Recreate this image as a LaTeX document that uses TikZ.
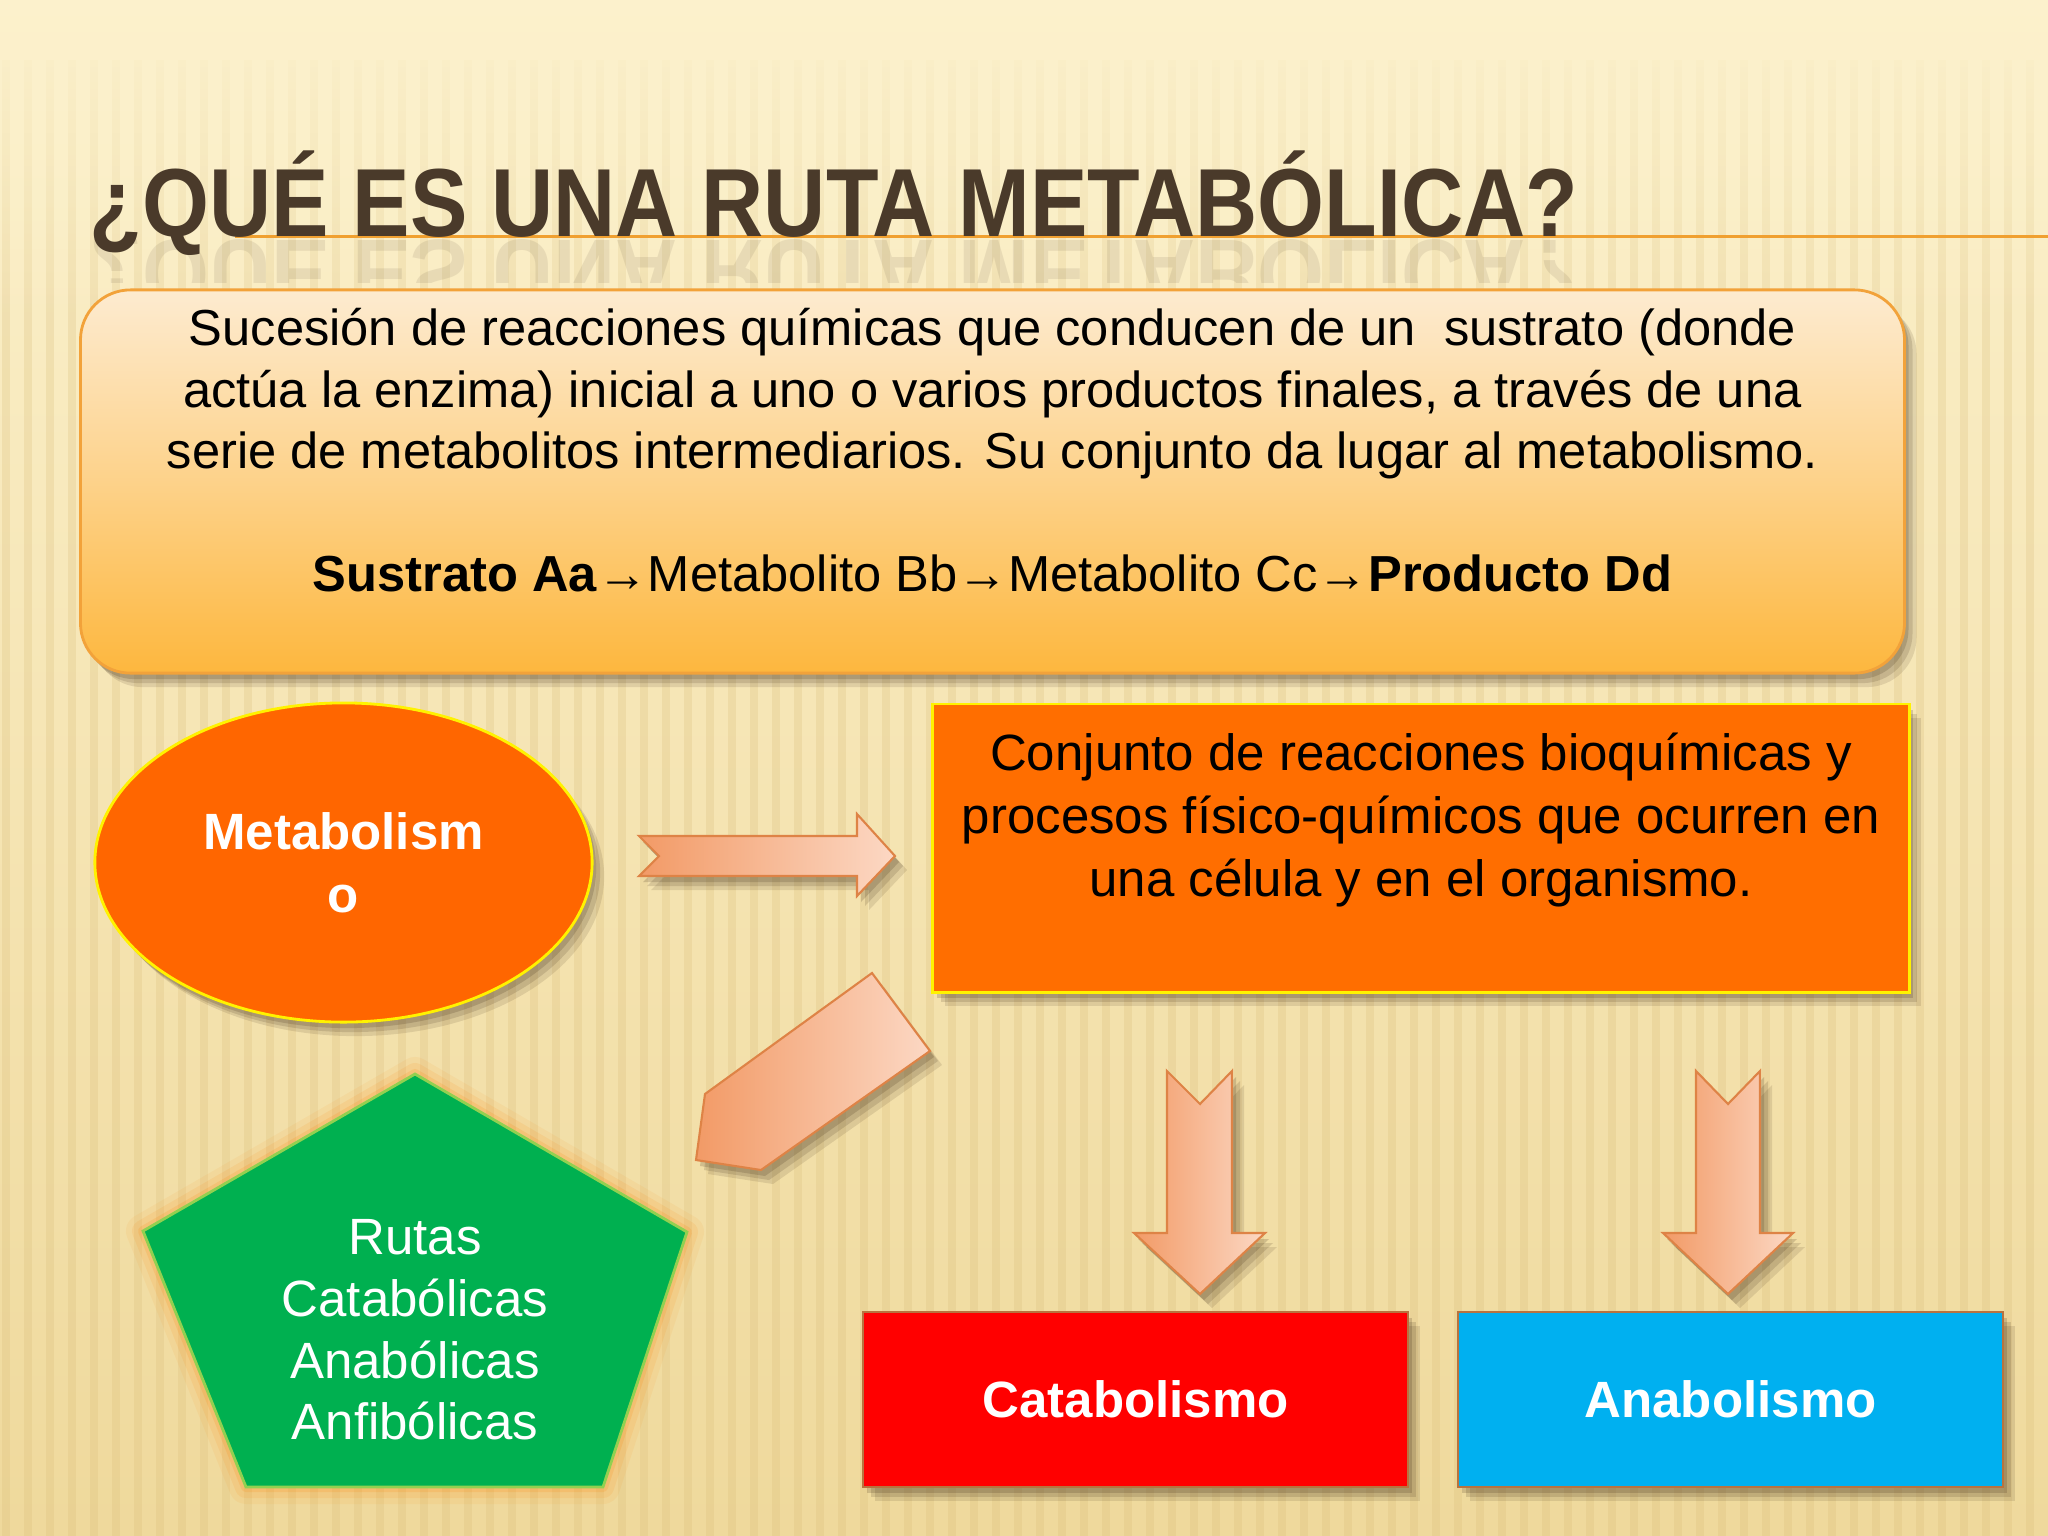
\documentclass[tikz,border=0pt]{standalone}
\usepackage{fontspec}
\setmainfont{Liberation Sans}
\newfontfamily\titlefont[FakeStretch=0.89]{Liberation Sans}
\usetikzlibrary{shapes.geometric}
\usetikzlibrary{shadows}
\usetikzlibrary{fadings}
\usetikzlibrary{positioning}
\usetikzlibrary{calc}

\definecolor{fondo}{HTML}{FCF1CC}
\definecolor{fondobajo}{HTML}{EFD99C}
\definecolor{raya}{HTML}{D9BC78}
\definecolor{colortitulo}{HTML}{4A3A2A}
\definecolor{linea}{HTML}{F0A030}
\definecolor{cajaarriba}{HTML}{FDEBD0}
\definecolor{cajamedio}{HTML}{FDD28A}
\definecolor{cajaabajo}{HTML}{FDB73E}
\definecolor{cajaborde}{HTML}{F2A23A}
\definecolor{naranja}{HTML}{FF6600}
\definecolor{naranjacaja}{HTML}{FF6E00}
\definecolor{verde}{HTML}{00B050}
\definecolor{verdeborde}{HTML}{92D050}
\definecolor{rojo}{HTML}{FF0000}
\definecolor{azul}{HTML}{00B0F0}
\definecolor{cafeborde}{HTML}{B8733F}
\definecolor{flechaosc}{HTML}{F29A66}
\definecolor{flechaclr}{HTML}{FCD8C4}
\definecolor{flechaborde}{HTML}{DE8346}

\tikzfading[name=desvanece, top color=transparent!0, bottom color=transparent!100]

\tikzset{
  sombra/.style={
    drop shadow={shadow xshift=0.12cm, shadow yshift=-0.14cm, opacity=0.12, fill=black!70!brown},
    drop shadow={shadow xshift=0.08cm, shadow yshift=-0.1cm, opacity=0.15, fill=black!70!brown},
    drop shadow={shadow xshift=0.04cm, shadow yshift=-0.06cm, opacity=0.18, fill=black!70!brown}},
  flecha/.style={draw=flechaborde, line width=0.6pt, left color=flechaosc, right color=flechaclr, sombra},
  caja/.style={rectangle, draw=cafeborde, line width=0.6pt, minimum width=5.44cm, minimum height=1.75cm, text=white, font=\fontsize{14.5}{17}\selectfont\bfseries, sombra},
}

\begin{document}
\begin{tikzpicture}[x=0.01cm, y=-0.01cm]
				\useasboundingbox (0,0) rectangle (2048,1536);
				% fondo
				\shade[top color=fondo, bottom color=fondobajo] (0,0) rectangle (2048,1536);
				\foreach \i in {0,...,93}
				\draw[raya, opacity=0.25, line width=0.08cm] (\i*22+6,60) -- (\i*22+6,1536);
				\fill[fondo, path fading=desvanece] (0,0) rectangle (2048,330);
				
				% titulo
				\draw[linea, line width=0.03cm] (235,236) -- (2048,236);
				\node[anchor=base west, text=colortitulo, font=\titlefont\fontsize{27.5}{30}\selectfont\bfseries, inner sep=0pt] (tit) at (89,236) {¿QUÉ ES UNA RUTA METABÓLICA?};
				\begin{scope}
				\clip (0,239) rectangle (2048,282);
				\node[anchor=base west, text=colortitulo, font=\titlefont\fontsize{27.5}{30}\selectfont\bfseries, inner sep=0pt, yscale=-1, transform shape, opacity=0.1] (reflejo) at (89,240) {¿QUÉ ES UNA RUTA METABÓLICA?};
				\end{scope}
				
				% definicion
				\node[rectangle, rounded corners=0.5cm, draw=cajaborde, line width=0.8pt, top color=cajaarriba, bottom color=cajaabajo, middle color=cajamedio, minimum width=18.23cm, minimum height=3.83cm, sombra] (defcaja) at (992.5,481.5) {};
				\node[align=center, font=\fontsize{14.4}{17.5}\selectfont] (deftexto) at ([yshift=0.31cm]defcaja.center) {Sucesión de reacciones químicas que conducen de un\ \ sustrato (donde\\actúa la enzima) inicial a uno o varios productos finales, a través de una\\serie de metabolitos intermediarios. Su conjunto da lugar al metabolismo.\\[17.5pt]\textbf{Sustrato Aa}→Metabolito Bb→Metabolito Cc→\textbf{Producto Dd}};
				
				% metabolismo
				\node[ellipse, draw=yellow, line width=0.8pt, fill=naranja, minimum width=4.97cm, minimum height=3.19cm, sombra, align=center, text=white, font=\fontsize{14.5}{18}\selectfont\bfseries] (metab) at (343.5,862.5) {Metabolism\\o};
				\draw[flecha] (639,836) -- (857,836) -- (857,814) -- (895,856) -- (857,896) -- (857,876) -- (639,876) -- (659,856) -- cycle;
				
				\node[rectangle, draw=yellow, line width=0.8pt, fill=naranjacaja, minimum width=9.76cm, minimum height=2.88cm, sombra] (conjunto) at (1421,848) {};
				\node[align=center, font=\fontsize{14.5}{17.8}\selectfont] (conjtexto) at ([yshift=0.28cm]conjunto.center) {Conjunto de reacciones bioquímicas y\\procesos físico-químicos que ocurren en\\una célula y en el organismo.};
				
				% flechas
				\draw[flecha] (872,973) -- (930,1051) -- (761,1170) -- (696,1160) -- (705,1094) -- cycle;
				\draw[flecha] (1167,1071) -- (1200,1104) -- (1232,1071) -- (1232,1233) -- (1265,1233) -- (1200,1294) -- (1134,1233) -- (1167,1233) -- cycle;
				\draw[flecha] (1696,1071) -- (1728,1104) -- (1760,1071) -- (1760,1233) -- (1793,1233) -- (1728,1294) -- (1663,1233) -- (1696,1233) -- cycle;
				
				% rutas
				\coordinate (p1) at (415,1074);
				\coordinate (p2) at (687,1232);
				\coordinate (p3) at (603,1487);
				\coordinate (p4) at (246,1487);
				\coordinate (p5) at (143,1231);
				\foreach \w/\o in {0.34cm/0.07, 0.22cm/0.1, 0.1cm/0.15}
				\draw[orange, opacity=\o, line width=\w, line join=round] (p1) -- (p2) -- (p3) -- (p4) -- (p5) -- cycle;
				\draw[verdeborde, fill=verde, line width=0.8pt] (p1) -- (p2) -- (p3) -- (p4) -- (p5) -- cycle;
				\node[align=center, text=white, font=\fontsize{14.5}{17.5}\selectfont] (rutas) at (415,1330) {Rutas\\Catabólicas\\Anabólicas\\Anfibólicas};
				
				% catabolismo y anabolismo
				\node[caja, fill=rojo] (catab) at (1135.5,1399.5) {Catabolismo};
				\node[caja, fill=azul, right=0.486cm of catab] (anab) {Anabolismo};
			\end{tikzpicture}
\end{document}
